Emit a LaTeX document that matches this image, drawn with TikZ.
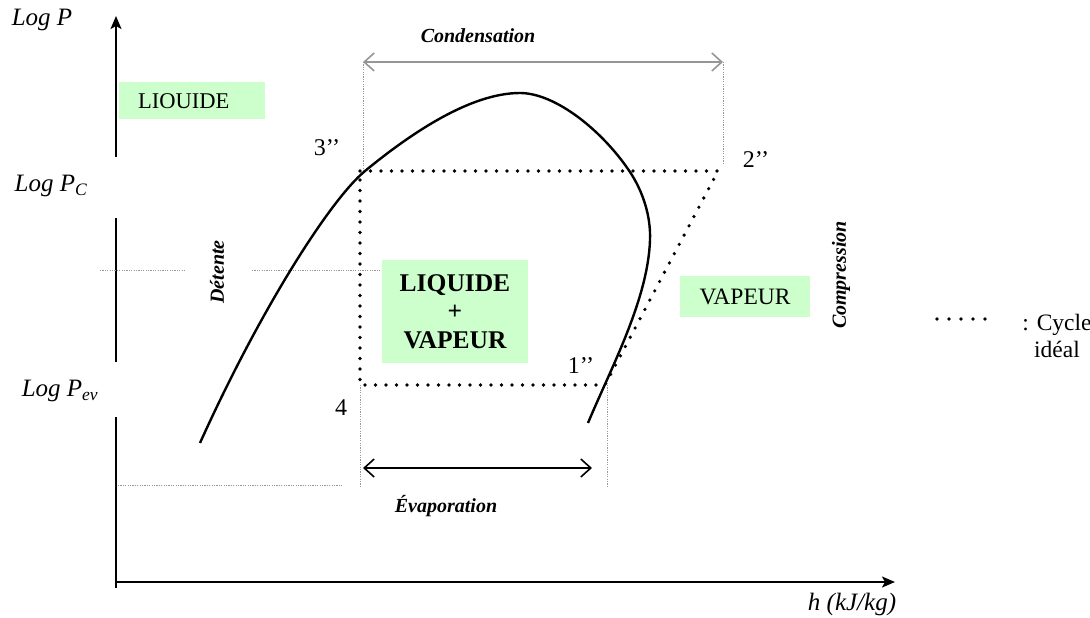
\documentclass[tikz,border=0pt]{standalone}
\usepackage{fontspec}
\setmainfont{Liberation Serif}
\usetikzlibrary{arrows.meta}
\definecolor{zonegreen}{RGB}{204,255,204}
\definecolor{guidegray}{RGB}{150,150,150}
\definecolor{arrgray}{RGB}{150,150,150}
\begin{document}
\begin{tikzpicture}[x=1pt,y=-1pt,
  axis/.style={line width=1.8pt, black},
  axisarrow/.style={axis, -{Stealth[length=13pt,width=11pt,inset=3pt]}},
  cyc/.style={line width=3.6pt, dash pattern=on 0pt off 10.5pt, line cap=round},
  guide/.style={line width=0.8pt, guidegray, dash pattern=on 1.2pt off 1.2pt},
  dome/.style={line width=2.4pt, black},
  zone/.style={fill=zonegreen, draw=none, inner sep=0pt},
  barbs/.style={{Straight Barb[length=10pt,width=18pt,line width=1.6pt]}-{Straight Barb[length=10pt,width=18pt,line width=1.6pt]}},
  lbl/.style={inner sep=0pt, font=\fontsize{24}{26}\selectfont},
  axlbl/.style={inner sep=0pt, font=\fontsize{25}{27}\selectfont\itshape},
  bilbl/.style={inner sep=0pt, font=\fontsize{20}{22}\selectfont\bfseries\itshape},
]
\useasboundingbox (0,0) rectangle (1090,618);

% axes
\coordinate (yb1) at (116,157);
\coordinate (yt) at (116,16);
\coordinate (yb2a) at (116,218);
\coordinate (yb2b) at (116,362);
\coordinate (yb3a) at (116,417);
\coordinate (o) at (116,588);
\coordinate (xo) at (116,582);
\coordinate (xe) at (895,582);
\draw[axisarrow] (yb1) -- (yt);
\draw[axis] (yb2a) -- (yb2b);
\draw[axis] (yb3a) -- (o);
\draw[axisarrow] (xo) -- (xe);

\node[axlbl] (logp) at (42,20) {Log P};
\node[axlbl] (logpc) at (51,186) {Log P\textsubscript{C}};
\node[axlbl] (logpev) at (60,391) {Log P\textsubscript{ev}};
\node[axlbl] (hlbl) at (852,604) {h (kJ/kg)};

% cycle corner points
\coordinate (c3) at (360,171);
\coordinate (c2) at (718,171);
\coordinate (c1) at (605,385);
\coordinate (c4) at (360,385);

% guide lines
\coordinate (cl) at (363,62);
\coordinate (cr) at (723,62);
\coordinate (cld) at (363,171);
\coordinate (crd) at (723,165);
\draw[guide] (cl) -- (cld);
\draw[guide] (cr) -- (crd);
\coordinate (d1) at (100,270);
\coordinate (d2) at (185,270);
\coordinate (d3) at (252,270);
\coordinate (d4) at (380,270);
\draw[guide] (d1) -- (d2);
\draw[guide] (d3) -- (d4);
\coordinate (b1) at (118,485);
\coordinate (b2) at (343,485);
\draw[guide] (b1) -- (b2);
\coordinate (b4) at (360,487);
\coordinate (b5) at (607,487);
\coordinate (c1g) at (607,385);
\draw[guide] (c4) -- (b4);
\draw[guide] (c1g) -- (b5);

% condensation / evaporation arrows
\draw[barbs, arrgray, line width=2pt] (cl) -- (cr);
\node[bilbl] (cond) at (478,36) {Condensation};
\coordinate (el) at (363,468);
\coordinate (er) at (592,468);
\draw[barbs, black, line width=1.4pt] (el) -- (er);
\node[bilbl] (evap) at (446,506) {Évaporation};

% zone boxes
\node[zone, anchor=north west, minimum width=146pt, minimum height=37pt, inner xsep=19pt, text width=108pt, align=left, font=\fontsize{22.5}{24}\selectfont] (liq) at (119,82) {LIOUIDE};
\node[zone, minimum width=146pt, minimum height=103pt, align=center, font=\fontsize{25.5}{28.5}\selectfont\bfseries] (mix) at (455,311.5) {LIQUIDE\\+\\VAPEUR};
\node[zone, minimum width=130pt, minimum height=41pt, font=\fontsize{23.5}{25}\selectfont] (vap) at (745,296.5) {VAPEUR};

% saturation dome
\draw[dome] (200,443) .. controls (260,310) and (330,200) .. (365,171)
  .. controls (410,134) and (470,93) .. (520,93)
  .. controls (555,93) and (602,130) .. (630,172)
  .. controls (642,190) and (651,215) .. (650,240)
  .. controls (648,300) and (610,370) .. (588,423);

% ideal cycle
\draw[cyc] (c3) -- (c2) -- (c1) -- (c4) -- cycle;

% point labels
\node[lbl] (l3) at (327,148) {3’’};
\node[lbl] (l2) at (756,160) {2’’};
\node[lbl] (l1) at (581,366) {1’’};
\node[lbl] (l4) at (341,408) {4};

% rotated labels
\node[bilbl, rotate=90] (det) at (217,272) {Détente};
\node[bilbl, rotate=90] (comp) at (841,275) {Compression};

% legend
\coordinate (lg1) at (937,319);
\coordinate (lg2) at (986,319);
\draw[line width=3.6pt, dash pattern=on 0pt off 12pt, line cap=round] (lg1) -- (lg2);
\node[inner sep=0pt, align=center, font=\fontsize{23.5}{27}\selectfont] (leg) at (1057,336) {: Cycle\\idéal};
\end{tikzpicture}
\end{document}
